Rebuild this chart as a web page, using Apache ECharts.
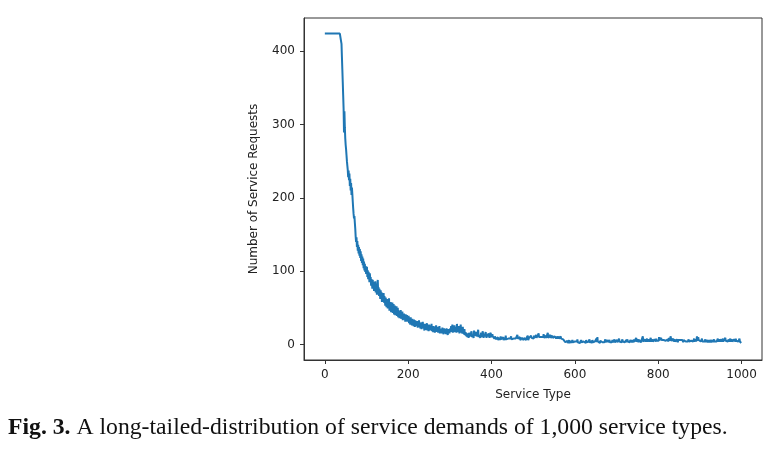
<!DOCTYPE html>
<html>
<head>
<meta charset="utf-8">
<script src="https://cdn.jsdelivr.net/npm/echarts@6/dist/echarts.min.js"></script>
<style>
html,body{margin:0;padding:0;background:#fff;}
#chart{width:782px;height:454px;}
</style>
</head>
<body>
<div id="chart"></div>
<script>
// Service types 0..999, requests in index order
var requests0to39 = [424,424,424,424,424,424,424,424,424,424,424,424,424,424,424,424,424,424,424,424,
424,424,424,424,424,424,424,424,424,424,424,424,424,424,424,424,424,424,424,424];
var requests40to99 = [410,392,375,358,340,322,289,318,296,281,
272,266,258,250,244,238,228,237,224,233,
216,226,210,220,204,214,205,195,186,178,
172,175,166,158,147,
140,146,133,141,128,136,124,133,121,130,
118,127,114,123,111,120,108,117,104,113,
101,110,99,107,96];
var requests100to199 = [98,106,92,101,89,99,94,85,97,88,
92,80,89,84,76,88,79,85,73,83,
77,86,71,80,74,68,82,88,70,78,
66,76,70,62,74,65,71,58,69,63,
60,70,57,66,61,53,64,58,51,62,
55,49,60,52,63,46,56,50,58,44,
53,47,57,43,51,55,41,49,53,40,
48,42,52,39,45,50,37,46,41,36,
44,38,47,35,41,37,45,33,40,36,
42,34,39,31,41,36,33,40,31,37];
var requests200to299 = [33,39,29,36,31,27,37,30,34,26,
35,28,32,25,34,29,24,33,27,31,
25,32,27,23,31,26,33,24,29,22,
30,25,21,29,24,31,22,27,25,19,
28,23,20,27,22,29,19,26,23,18,
27,21,25,19,26,20,28,18,24,21,
17,25,20,23,16,24,19,26,17,22,
19,24,16,22,18,25,15,21,23,16,
21,15,23,18,20,14,22,17,21,15,
20,14,22,17,19,13,21,16,20,15];
var requests300to409 = [19,22,17,25,18,21,27,16,20,23,
18,26,17,21,19,24,16,28,18,22,
17,25,19,15,23,18,27,16,20,22,
15,24,17,19,14,21,13,17,12,16,
11,14,10,15,12,9,16,11,13,10,
14,12,18,10,13,11,15,9,19,12,
14,10,13,17,11,9,14,12,20,10,
13,11,15,9,12,16,10,13,11,18,
12,9,14,11,13,10,17,12,9,14,
11,13,10,15,12,9,13,11,16,10,
12,9,14,11,13,10,12,8,11,9];
var requests410to576 = [7,8,6,9,7,10,6,8,7,9,
6,8,11,7,9,6,8,7,10,6,
8,7,9,6,12,7,8,6,9,7,
8,10,6,7,9,8,6,11,7,8,
6,9,7,8,10,6,7,9,8,6,
9,7,13,8,6,7,9,8,10,6,
7,8,6,9,7,11,8,6,9,7,
8,10,7,6,9,8,7,12,6,8,
9,11,8,10,7,12,9,8,11,9,
10,8,12,9,11,8,10,13,9,10,
8,11,9,15,10,8,12,9,11,10,
9,12,8,11,10,14,9,11,8,10,
12,9,11,8,10,16,9,11,10,8,
10,13,9,11,8,10,12,9,11,8,
10,8,11,9,12,8,10,9,11,8,
9,11,8,10,7,9,11,8,10,7,
9,8,7,9,8,7,6];
var requests577to999 = [3,4,2,
4,3,5,2,4,3,6,2,4,3,
5,3,2,4,6,3,4,2,5,3,
4,2,3,5,3,4,7,3,2,4,
3,5,2,4,3,6,3,4,2,5,
3,4,2,3,5,4,2,6,3,4,
2,5,3,4,3,7,2,4,5,3,
4,2,6,3,4,3,5,2,4,6,
3,4,8,3,10,4,6,3,5,4,
2,5,4,3,6,4,3,5,2,4,
5,3,4,7,3,5,4,2,6,4,
3,5,4,6,3,4,2,5,4,3,
6,4,3,5,4,7,3,4,5,3,
4,6,3,5,4,3,8,4,5,3,
6,4,3,5,7,4,3,6,4,5,
3,5,4,6,3,5,7,4,3,6,
4,5,3,6,4,8,5,3,6,4,
5,3,7,4,6,5,3,9,4,6,
5,4,7,3,6,5,4,8,5,3,
6,4,5,11,4,6,5,3,7,5,
4,6,5,8,4,6,3,7,5,4,
6,5,9,4,6,5,7,4,5,6,
4,7,5,6,4,8,5,6,4,5,
7,5,10,6,4,7,5,9,6,4,
5,7,4,6,5,8,4,6,5,7,
4,6,5,7,4,6,9,5,4,6,
11,5,7,4,6,5,8,4,6,5,
7,4,5,6,4,7,5,3,6,5,
4,7,5,6,4,5,8,4,6,5,
3,6,5,4,7,5,4,6,3,5,
6,4,5,7,4,6,5,3,6,5,
4,7,5,6,4,5,8,4,6,5,
7,4,6,11,5,4,10,6,5,4,
7,5,4,6,5,8,4,6,3,5,
6,4,5,7,3,5,6,4,5,3,
5,6,4,3,5,4,6,3,5,4,
6,4,3,5,7,4,6,5,3,5,
4,6,5,8,4,6,5,7,4,6,
5,7,4,6,5,8,4,6,5,4,
6,9,5,4,7,5,6,4,5,7,
4,6,5,8,4,6,5,7,4,5,
6,4,7,5,6,4,8,5,6,4,
5,7,4,6,5,8,4,6,3,2];

var xTickLabels = [0, 200, 400, 600, 800, 1000];
var yTickLabels = [0, 100, 200, 300, 400];
var xAxisTitle = 'Service Type';
var yAxisTitle = 'Number of Service Requests';
var captionBold = 'Fig. 3.';
var captionText = ' A long-tailed-distribution of service demands of 1,000 service types.';

var requests = [].concat(requests0to39, requests40to99, requests100to199,
  requests200to299, requests300to409, requests410to576, requests577to999);
var seriesData = requests.map(function (v, i) { return [i, v]; });

var chart = echarts.init(document.getElementById('chart'), null, {renderer: 'canvas'});
var axisColor = '#333333';
var labelColor = '#222222';
function plain(v) { return String(v); }
chart.setOption({
  animation: false,
  backgroundColor: '#ffffff',
  title: {
    text: '{b|' + captionBold + '}' + captionText,
    left: 8,
    top: 416,
    padding: 0,
    textStyle: {
      fontFamily: 'Liberation Serif',
      fontSize: 23.7,
      fontWeight: 'normal',
      color: '#111',
      rich: {
        b: {fontFamily: 'Liberation Serif', fontSize: 23.7, fontWeight: 'bold', color: '#111'}
      }
    }
  },
  grid: {
    left: 304, right: 20, top: 18, bottom: 94,
    show: true, borderColor: axisColor, borderWidth: 1, backgroundColor: 'transparent'
  },
  xAxis: {
    type: 'value',
    min: -50, max: 1049,
    name: xAxisTitle,
    nameLocation: 'middle',
    nameGap: 29,
    nameTextStyle: {fontFamily: 'DejaVu Sans', fontSize: 12, color: labelColor},
    axisLine: {show: true, onZero: false, lineStyle: {color: axisColor, width: 1}},
    axisTick: {show: true, customValues: xTickLabels, length: 4, lineStyle: {color: axisColor}},
    axisLabel: {customValues: xTickLabels, formatter: plain, fontFamily: 'DejaVu Sans', fontSize: 12, color: labelColor, margin: 9},
    splitLine: {show: false}
  },
  yAxis: {
    type: 'value',
    min: -21.2, max: 445.2,
    name: yAxisTitle,
    nameLocation: 'middle',
    nameGap: 44,
    nameRotate: 90,
    nameTextStyle: {fontFamily: 'DejaVu Sans', fontSize: 12, color: labelColor},
    axisLine: {show: true, onZero: false, lineStyle: {color: axisColor, width: 1}},
    axisTick: {show: true, customValues: yTickLabels, length: 4, lineStyle: {color: axisColor}},
    axisLabel: {customValues: yTickLabels, formatter: plain, fontFamily: 'DejaVu Sans', fontSize: 12, color: labelColor, margin: 9},
    splitLine: {show: false}
  },
  series: [{
    type: 'line',
    data: seriesData,
    showSymbol: false,
    sampling: null,
    lineStyle: {color: '#1f77b4', width: 2},
    itemStyle: {color: '#1f77b4'}
  }]
});
</script>
</body>
</html>
